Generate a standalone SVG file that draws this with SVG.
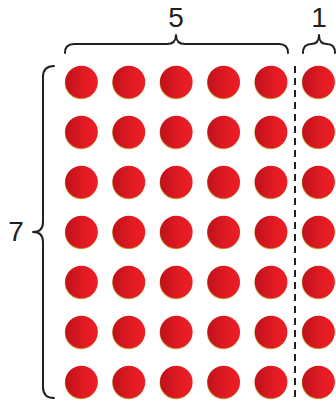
<svg xmlns="http://www.w3.org/2000/svg" width="336" height="402" viewBox="0 0 336 402">
<defs>
<linearGradient id="g" x1="0" y1="0" x2="1" y2="0">
<stop offset="0" stop-color="#bf111b"/>
<stop offset="0.6" stop-color="#e21b23"/>
<stop offset="1" stop-color="#ee1d25"/>
</linearGradient>
<g id="dot">
<circle cx="-0.4" cy="0.9" r="16.3" fill="#c9a13a"/>
<circle cx="0" cy="0" r="16.3" fill="url(#g)"/>
</g>
</defs>
<style>
.br{fill:none;stroke:#231f20;stroke-width:2;stroke-linecap:round;stroke-linejoin:round}
.lbl{font-family:"Liberation Sans",Arial,sans-serif;font-size:28px;fill:#231f20;text-anchor:middle}
</style>
<g id="connectors">
<path class="br" d="M65,53 Q65,44 74,44 L167,44 Q176,44 176,35 Q176,44 185,44 L279,44 Q288,44 288,53"/>
<path class="br" d="M303,53 Q303,44 311,44 Q319,44 319,35 Q319,44 327,44 Q335,44 335,53"/>
<path class="br" d="M54,66 Q43,66 43,77 L43,222 Q43,232 33,232 Q43,232 43,242 L43,387 Q43,398 54,398"/>
<line x1="295" y1="66" x2="295" y2="402" stroke="#231f20" stroke-width="2" stroke-dasharray="7,5"/>
</g>
<g id="labels">
<text class="lbl" x="176" y="27">5</text>
<text class="lbl" x="319" y="27">1</text>
<text class="lbl" x="16" y="241">7</text>
</g>
<g id="dots">
<g id="row1"><use href="#dot" x="81.5" y="82"/><use href="#dot" x="128.9" y="82"/><use href="#dot" x="176.3" y="82"/><use href="#dot" x="223.7" y="82"/><use href="#dot" x="271.1" y="82"/><use href="#dot" x="318.5" y="82"/></g>
<g id="row2"><use href="#dot" x="81.5" y="132"/><use href="#dot" x="128.9" y="132"/><use href="#dot" x="176.3" y="132"/><use href="#dot" x="223.7" y="132"/><use href="#dot" x="271.1" y="132"/><use href="#dot" x="318.5" y="132"/></g>
<g id="row3"><use href="#dot" x="81.5" y="182"/><use href="#dot" x="128.9" y="182"/><use href="#dot" x="176.3" y="182"/><use href="#dot" x="223.7" y="182"/><use href="#dot" x="271.1" y="182"/><use href="#dot" x="318.5" y="182"/></g>
<g id="row4"><use href="#dot" x="81.5" y="232"/><use href="#dot" x="128.9" y="232"/><use href="#dot" x="176.3" y="232"/><use href="#dot" x="223.7" y="232"/><use href="#dot" x="271.1" y="232"/><use href="#dot" x="318.5" y="232"/></g>
<g id="row5"><use href="#dot" x="81.5" y="282"/><use href="#dot" x="128.9" y="282"/><use href="#dot" x="176.3" y="282"/><use href="#dot" x="223.7" y="282"/><use href="#dot" x="271.1" y="282"/><use href="#dot" x="318.5" y="282"/></g>
<g id="row6"><use href="#dot" x="81.5" y="332"/><use href="#dot" x="128.9" y="332"/><use href="#dot" x="176.3" y="332"/><use href="#dot" x="223.7" y="332"/><use href="#dot" x="271.1" y="332"/><use href="#dot" x="318.5" y="332"/></g>
<g id="row7"><use href="#dot" x="81.5" y="382"/><use href="#dot" x="128.9" y="382"/><use href="#dot" x="176.3" y="382"/><use href="#dot" x="223.7" y="382"/><use href="#dot" x="271.1" y="382"/><use href="#dot" x="318.5" y="382"/></g>
</g>
</svg>
